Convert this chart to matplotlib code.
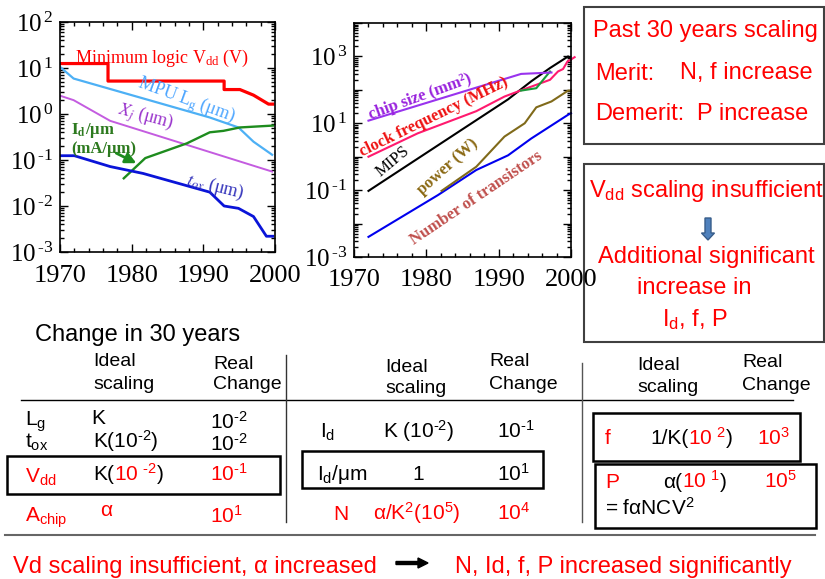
import matplotlib
matplotlib.use("Agg")
import matplotlib.pyplot as plt
import numpy as np
from matplotlib.patches import Rectangle, FancyArrow
from matplotlib.ticker import FuncFormatter, LogLocator, MultipleLocator, NullFormatter

plt.rcParams["font.family"] = ["Liberation Serif", "DejaVu Serif"]
plt.rcParams["mathtext.fontset"] = "stix"
SANS = ["Liberation Sans", "DejaVu Sans"]
K, R = "black", "red"
HY = "\u2010"  # short hyphen for exponents, mathtext turns "-" into a long minus

# ─── Left chart: device parameters ────────────────────────────────────────────
vdd_years = [1970, 1976.7, 1976.7, 1992.9, 1992.9, 1995.1, 1997.0, 1999.1, 1999.7]
vdd_vals = [12.5, 12.5, 5.2, 5.2, 3.4, 3.4, 2.57, 1.64, 1.64]
lg_years = [1970, 1971.9, 1990.9, 1994.9, 1997.0, 1999.6]
lg_vals = [10.6, 5.9, 0.84, 0.51, 0.25, 0.13]
xj_years = [1970, 1971.9, 1977.0, 1999.6]
xj_vals = [2.5, 2.0, 0.71, 0.056]
id_years = [1978.9, 1981.9, 1987.7, 1990.9, 1992.8, 1995.1, 1999.7]
id_vals = [0.040, 0.11, 0.23, 0.40, 0.43, 0.51, 0.56]
tox_years = [1970, 1972.0, 1977.0, 1981.6, 1990.9, 1992.9, 1994.9, 1997.0, 1998.8, 1999.7]
tox_vals = [0.124, 0.124, 0.072, 0.051, 0.020, 0.010, 0.0089, 0.0059, 0.0022, 0.0022]

# ─── Middle chart: chip parameters ────────────────────────────────────────────
trans_years = [1972.0, 1981.6, 1986.9, 1991.3, 1994.5, 1999.6, 2000.0]
trans_vals = [0.004, 0.071, 0.40, 1.1, 3.5, 18, 20]
power_years = [1982.1, 1986.9, 1990.8, 1993.6, 1995.2, 1997.3, 1999.6, 2000.0]
power_vals = [0.095, 0.5, 4, 10, 30, 45, 95, 95]
mips_years = [1972.0, 1991.3, 1994.5, 1997.1, 1999.6, 2000.0]
mips_vals = [0.095, 52, 180, 450, 1000, 830]
clock_years = [1972.0, 1978.8, 1986.9, 1990.8, 1992.7, 1997.1, 1998.2, 1998.9, 1999.5, 2000.5]
clock_vals = [1.0, 5, 23, 63, 90, 200, 355, 420, 700, 950]
clock2_years = [1993.1, 1995.2, 1997.1]
clock2_vals = [95, 112, 355]
chip_years = [1972.0, 1993.1, 1997.3]
chip_vals = [12, 300, 330]

# ─── Table: real change (exponent of 10) ──────────────────────────────────────
g1_names = [r"$\mathregular{L_g}$", r"$\mathregular{t_{ox}}$", r"$\mathregular{V_{dd}}$", r"$\mathregular{A_{chip}}$"]
g1_real = [-2, -2, -1, 1]
g2_names = [r"$\mathregular{I_d}$", r"$\mathregular{I_d}$/μm", "N"]
g2_real = [-1, 1, 4]
g3_real = [3, 5]

fig = plt.figure(figsize=(8.25, 5.79), dpi=100)
ov = fig.add_axes([0, 0, 1, 1])
ov.set_xlim(0, 825)
ov.set_ylim(579, 0)
ov.axis("off")
renderer = fig.canvas.get_renderer()


def exp_str(e):
    return str(e).replace("-", HY)


def px_axes(left, top, right, bottom):
    return fig.add_axes([left / 825, 1 - bottom / 579, (right - left) / 825, (bottom - top) / 579])


def style_chart(ax, lo, hi, step):
    ax.set_yscale("log")
    ax.set_xlim(1970, 2000)
    ax.set_ylim(10.0 ** lo, 10.0 ** hi)
    ax.xaxis.set_major_locator(MultipleLocator(10))
    ax.xaxis.set_minor_locator(MultipleLocator(2))
    ax.yaxis.set_major_locator(LogLocator(base=10, numticks=20))
    ax.yaxis.set_minor_locator(LogLocator(base=10, subs=range(2, 10), numticks=20))
    ax.yaxis.set_minor_formatter(NullFormatter())

    def fmt(v, pos):
        e = int(round(np.log10(v)))
        if (e - lo) % step:
            return ""
        return r"$\mathregular{10^{\,%s}}$" % exp_str(e)

    ax.yaxis.set_major_formatter(FuncFormatter(fmt))
    ax.tick_params(which="both", direction="in", top=True, right=True, labelsize=18, width=1)
    ax.tick_params(which="major", length=6)
    ax.tick_params(which="minor", length=3)
    ax.tick_params(axis="x", pad=9, labelsize=19)
    ax.tick_params(axis="y", pad=5)
    for sp in ax.spines.values():
        sp.set_linewidth(1.2)


ax1 = px_axes(60, 22, 275, 252)
style_chart(ax1, -3, 2, 1)
ax1.plot(vdd_years, vdd_vals, color="#ff0000", lw=2.3)
ax1.plot(lg_years, lg_vals, color="#4db0f5", lw=1.6)
ax1.plot(xj_years, xj_vals, color="#c45ce0", lw=1.4)
ax1.plot(id_years, id_vals, color="#1e8c1e", lw=1.7)
ax1.plot(tox_years, tox_vals, color="#0a14d8", lw=2)
ax1.annotate("", xy=(1981.0, 0.08), xytext=(1977.5, 0.15),
             arrowprops=dict(arrowstyle="-|>", color="#1e8c1e", lw=2, mutation_scale=16))
ax1.text(1984.2, 16.5, r"Minimum logic $\mathregular{V_{dd}}$ (V)", color="red", fontsize=13,
         ha="center", va="center")
ax1.text(1987.6, 2.0, "MPU $\\mathregular{L_g}$ (μm)", color="#4da6ff", fontsize=13,
         ha="center", va="center", rotation=-20)
ax1.text(1981.9, 0.86, "$X_j$ (μm)", color="#9933cc", fontsize=13,
         ha="center", va="center", rotation=-15)
ax1.text(1971.5, 0.29, "$\\mathbf{I_d}$/μm\n(mA/μm)", color="#2d7a1f", fontsize=12,
         fontweight="bold", ha="left", va="center", linespacing=1.1)
ax1.text(1991.6, 0.026, "$t_{ox}$ (μm)", color="#3333bb", fontsize=13,
         ha="center", va="center", rotation=-14)

ax2 = px_axes(354, 23, 571, 257)
style_chart(ax2, -3, 4, 2)
ax2.plot(trans_years, trans_vals, color="#0000ee", lw=1.5, clip_on=False)
ax2.plot(power_years, power_vals, color="#806a1a", lw=1.5, clip_on=False)
ax2.plot(mips_years, mips_vals, color="black", lw=1.5, clip_on=False)
ax2.plot(clock_years, clock_vals, color="#ff1a6e", lw=1.5, clip_on=False)
ax2.plot(clock2_years, clock2_vals, color="#1a9a3a", lw=1.5)
ax2.plot(chip_years, chip_vals, color="#9933ee", lw=1.5)
ax2.text(1979.1, 61, "chip size (mm²)", color="#9922dd", fontsize=12, fontweight="bold",
         ha="center", va="center", rotation=20)
ax2.text(1981.0, 15.7, "clock frequency (MHz)", color="#ee1111", fontsize=12, fontweight="bold",
         ha="center", va="center", rotation=26)
ax2.text(1975.3, 0.71, "MIPS", color="black", fontsize=12, ha="center", va="center", rotation=40)
ax2.text(1983.0, 0.5, "power (W)", color="#8b6914", fontsize=12, fontweight="bold",
         ha="center", va="center", rotation=42)
ax2.text(1986.9, 0.058, "Number of transistors", color="#c0504d", fontsize=12, fontweight="bold",
         ha="center", va="center", rotation=34)


def put(x, yc, pieces, size=15, ha="left"):
    """Draw (text, colour) pieces side by side; yc is the visual middle of the capitals."""
    yb = yc + 0.36 * size * 100 / 72
    x0 = x
    texts = []
    for s, c in pieces:
        t = ov.text(x0, yb, s, color=c, fontsize=size, family=SANS, va="baseline", ha="left")
        x0 += t.get_window_extent(renderer).width
        texts.append(t)
    if ha == "center":
        shift = (x0 - x) / 2
        for t in texts:
            t.set_x(t.get_position()[0] - shift)
    return texts


def pow10(e, gap=False):
    return r"$\mathregular{10%s^{%s}}$" % (r"\ " if gap else "", exp_str(e))


# ─── Right boxes ──────────────────────────────────────────────────────────────
for (x, y, w, h) in [(584, 7, 240, 137), (584, 164, 240, 178)]:
    ov.add_patch(Rectangle((x, y), w, h, fill=False, ec="#404040", lw=1.5))
put(705, 29, [("Past 30 years scaling", R)], 17, ha="center")
put(595, 71, [("Merit:", R)], 17)
put(680, 71, [("N, f increase", R)], 17)
put(595, 112, [("Demerit:", R)], 17)
put(697, 112, [("P increase", R)], 17)
put(707, 188, [(r"$\mathregular{V_{dd}}$ scaling insufficient", R)], 17, ha="center")
ov.add_patch(FancyArrow(708, 218, 0, 22, width=6, head_width=13, head_length=7,
                        length_includes_head=True, fc="#4f81bd", ec="#385d8a", lw=1))
put(706, 255, [("Additional significant", R)], 17, ha="center")
put(694, 285, [("increase in", R)], 17, ha="center")
put(695, 318, [(r"$\mathregular{I_d}$, f, P", R)], 17, ha="center")

# ─── Table ────────────────────────────────────────────────────────────────────
put(35, 333, [("Change in 30 years", K)], 17)
for (x, y1, y2, a, b) in [(93, 359, 382, "Ideal", "scaling"), (213, 362, 382, "Real", "Change"),
                          (385, 365, 386, "Ideal", "scaling"), (489, 359, 382, "Real", "Change"),
                          (637, 363, 385, "Ideal", "scaling"), (742, 360, 383, "Real", "Change")]:
    put(x, y1, [(a, K)], 14)
    put(x, y2, [(b, K)], 14)

ov.plot([21, 793], [400, 400], color="black", lw=1)
ov.plot([286, 286], [355, 522], color="#333333", lw=1)
ov.plot([582, 582], [363, 522], color="#555555", lw=1)
ov.plot([5, 815], [535, 535], color="#666666", lw=1.5)

for (x, y, w, h) in [(7, 456, 273, 38), (302, 451, 241, 37), (593, 413, 207, 48), (595, 464, 221, 64)]:
    ov.add_patch(Rectangle((x, y), w, h, fill=False, ec="black", lw=1.8))

g1_colors = [K, K, R, R]
for name, e, c, yn, yr in zip(g1_names, g1_real, g1_colors, [418, 440, 475, 514], [421, 443, 473, 515]):
    put(25, yn, [(name, c)])
    put(210, yr, [(pow10(e), c)])
put(91, 417, [("K", K)])
put(93, 440, [("K(" + pow10(-2) + ")", K)])
put(93, 473, [("K(", K), (pow10(-2, gap=True), R), (")", K)])
put(100, 508, [("α", R)])

g2_colors = [K, K, R]
for name, e, c, xn, y in zip(g2_names, g2_real, g2_colors, [320, 317, 333], [430, 473, 512]):
    put(xn, y, [(name, c)])
    put(497, y, [(pow10(e), c)])
put(383, 430, [("K (" + pow10(-2) + ")", K)])
put(412, 473, [("1", K)])
put(373, 512, [(r"α/$\mathregular{K^2(10^5)}$", R)])

put(605, 437, [("f", R)])
put(650, 437, [("1/K(", K), (pow10(2, gap=True), R), (")", K)])
put(757, 437, [(pow10(g3_real[0]), R)])
put(605, 480, [("P", R)])
put(663, 480, [("α(", K), (pow10(1, gap=True), R), (")", K)])
put(764, 480, [(pow10(g3_real[1]), R)])
put(605, 507, [(r"= fαNC$\mathregular{V^2}$", K)])

# ─── Bottom conclusion ────────────────────────────────────────────────────────
put(13, 565, [("Vd scaling insufficient, α increased", R)], 17)
ov.add_patch(FancyArrow(396, 563, 32, 0, width=3, head_width=10, head_length=10,
                        length_includes_head=True, color="black"))
put(455, 565, [("N, Id, f, P increased significantly", R)], 17)

fig.savefig("out.png", dpi=100)
